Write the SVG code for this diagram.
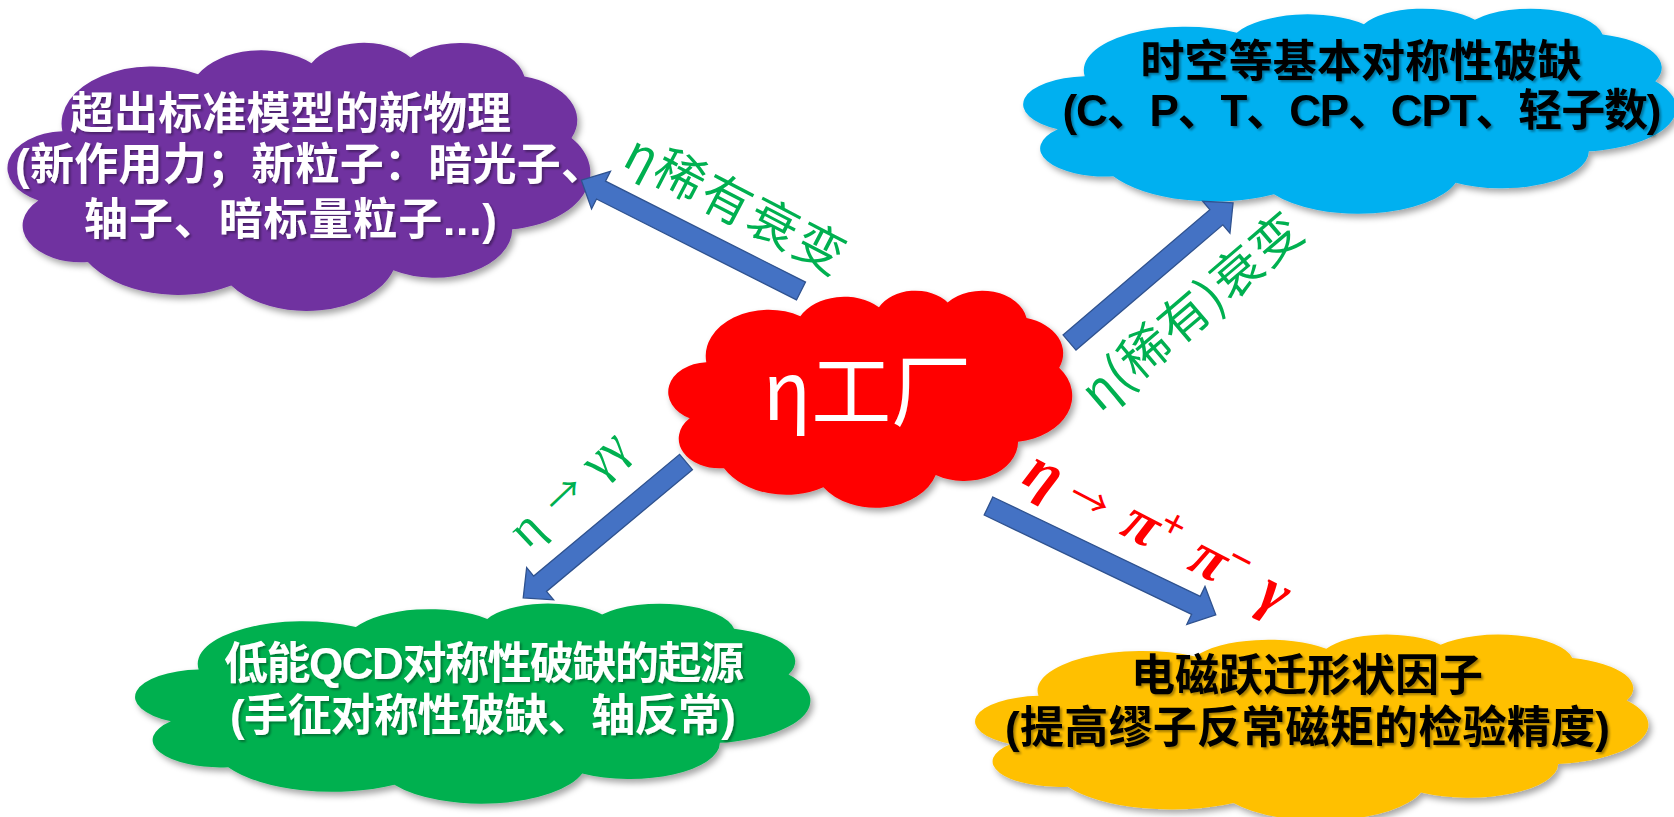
<svg xmlns="http://www.w3.org/2000/svg" xmlns:xlink="http://www.w3.org/1999/xlink" width="1674" height="817" viewBox="0 0 1674 817">
<style>
.t{font-family:"Liberation Sans","Noto Sans CJK SC",sans-serif;font-weight:bold;font-size:44px;text-anchor:middle}
.w{fill:#ffffff}
.k{fill:#000000}
.lbl{font-family:"Noto Sans CJK SC",sans-serif;font-size:50px;fill:#00B050;text-anchor:middle}
.arr{fill:#4472C4;stroke:#2F528F;stroke-width:1.3}
.ar{font-family:"Noto Sans CJK SC",sans-serif;font-weight:normal;font-style:normal}
</style>
<defs>
<path id="cloud" d="M9.03 33.26A15.63 21.27 0 0 1 32.42 12.04A12.34 16.82 0 0 1 51.98 7.94A10.1 13.76 0 0 1 69.06 5.74A11.24 15.27 0 0 1 88.7 12.91A12.34 16.84 0 0 1 96.81 35.78A15.68 21.34 0 0 1 86.59 69.91A13.39 18.21 0 0 1 66.1 85.21A15.63 21.33 0 0 1 38.15 90.89A17.87 24.41 0 0 1 13.43 82.1A10.09 13.7 0 0 1 4.89 59.14A10.06 13.76 0 0 1 9.03 33.26Z"/>
<filter id="sh" x="-10%" y="-10%" width="125%" height="135%"><feDropShadow dx="3" dy="4" stdDeviation="3" flood-color="#000" flood-opacity="0.35"/></filter>
<filter id="tsh" x="-10%" y="-20%" width="125%" height="150%"><feDropShadow dx="2" dy="2" stdDeviation="1.2" flood-color="#000" flood-opacity="0.35"/></filter>
</defs>

<g id="node-bsm">
<g filter="url(#sh)"><use xlink:href="#cloud" href="#cloud" transform="translate(10,42) scale(5.80,2.68)" fill="#7030A0"/></g>
<g class="t w" filter="url(#tsh)">
<text x="290.5" y="129" textLength="441">超出标准模型的新物理</text>
<text x="310" y="180" textLength="590">(新作用力；新粒子：暗光子、</text>
<text x="290.5" y="235" textLength="413">轴子、暗标量粒子...)</text>
</g>
</g>

<g id="node-symmetry">
<g filter="url(#sh)"><use xlink:href="#cloud" href="#cloud" transform="translate(1026,8) scale(6.50,2.05)" fill="#00B0F0"/></g>
<g class="t k" filter="url(#tsh)">
<text x="1361" y="77" textLength="441">时空等基本对称性破缺</text>
<text x="1362" y="126" textLength="599">(C、P、T、CP、CPT、轻子数)</text>
</g>
</g>

<g id="node-eta-factory">
<g filter="url(#sh)"><use xlink:href="#cloud" href="#cloud" transform="translate(670,290) scale(4.02,2.17)" fill="#FF0000"/></g>
<text x="867" y="420" font-family="Noto Sans CJK SC, sans-serif" font-size="80" fill="#ffffff" text-anchor="middle">η工厂</text>
</g>

<g id="node-qcd">
<g filter="url(#sh)"><use xlink:href="#cloud" href="#cloud" transform="translate(138,603) scale(6.72,2.0)" fill="#00B050"/></g>
<g class="t w" filter="url(#tsh)">
<text x="484" y="679" textLength="520">低能QCD对称性破缺的起源</text>
<text x="483" y="731" textLength="506">(手征对称性破缺、轴反常)</text>
</g>
</g>

<g id="node-formfactor">
<g filter="url(#sh)"><use xlink:href="#cloud" href="#cloud" transform="translate(978,634) scale(6.70,1.86)" fill="#FFC000"/></g>
<g class="t k" filter="url(#tsh)">
<text x="1307" y="691" textLength="352">电磁跃迁形状因子</text>
<text x="1307.5" y="743" textLength="605">(提高缪子反常磁矩的检验精度)</text>
</g>
</g>

<g id="connectors">
<polygon class="arr" transform="translate(801,291) rotate(206.77)" points="0,-10 224,-10 224,-21 246,0 224,21 224,10 0,10"/>
<polygon class="arr" transform="translate(1069.5,342.5) rotate(-40.47)" points="0,-10 193,-10 193,-21 215,0 193,21 193,10 0,10"/>
<polygon class="arr" transform="translate(686,462) rotate(140.16)" points="0,-10 190,-10 190,-21 212,0 190,21 190,10 0,10"/>
<polygon class="arr" transform="translate(988.5,506) rotate(25.6)" points="0,-10 230,-10 230,-21 252,0 230,21 230,10 0,10"/>

<text class="lbl" transform="translate(735,205) rotate(27.5)" y="17" textLength="240">η稀有衰变</text>
<text class="lbl" transform="translate(1192,312) rotate(-40.5)" y="17" textLength="272">η(稀有)衰变</text>
<text transform="translate(570,491) rotate(-43.5)" font-family="Liberation Serif, DejaVu Serif, serif" font-size="50" fill="#00B050" text-anchor="middle"><tspan x="-58" y="13">η</tspan><tspan class="ar" x="-7" y="12" font-size="38">→</tspan><tspan x="50" y="13">γγ</tspan></text>
<text transform="translate(1042,478) rotate(27.4)" font-family="Liberation Serif, DejaVu Serif, serif" font-weight="bold" font-style="italic" font-size="62" fill="#FF0000" text-anchor="middle"><tspan x="0" y="14">η</tspan><tspan class="ar" x="52" y="12" font-size="40">→</tspan><tspan x="110" y="14">π</tspan><tspan x="138" y="-6" font-size="42">+</tspan><tspan x="186" y="14">π</tspan><tspan x="214" y="-6" font-size="42">−</tspan><tspan x="260" y="14">γ</tspan></text>
</g>
</svg>
